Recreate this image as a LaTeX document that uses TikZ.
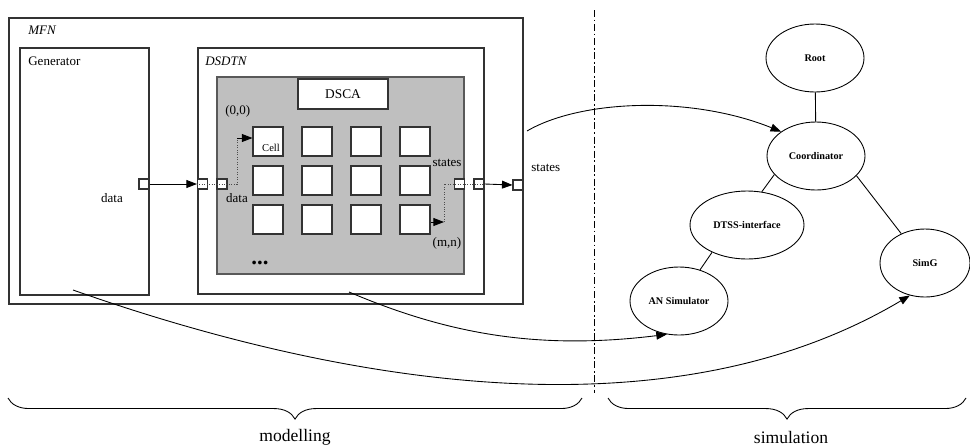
\documentclass[tikz,border=0pt]{standalone}
\usepackage{fontspec}
\setmainfont{Liberation Serif}
\usetikzlibrary{shapes.geometric,fit,arrows.meta,decorations.pathreplacing}

\begin{document}
\begin{tikzpicture}[x=0.02cm, y=-0.02cm,
		box/.style={draw=black!80, line width=0.6pt, inner sep=0},
		port/.style={draw=black!80, line width=0.6pt, fill=white, minimum size=0.2cm, inner sep=0},
		cell/.style={draw=black!80, line width=0.6pt, fill=white, minimum width=0.6cm, minimum height=0.58cm, inner sep=0},
		proc/.style={draw, ellipse, line width=0.5pt, minimum width=1.96cm, minimum height=1.36cm, inner sep=0, font=\fontsize{5.8}{7}\selectfont\bfseries},
		lbl/.style={inner sep=0, font=\fontsize{7.4}{9}\selectfont},
		bigtext/.style={inner sep=0, font=\fontsize{10}{12}\selectfont},
		arr/.style={-{Triangle[length=6pt,width=4.5pt]}, line width=0.5pt},
		dotline/.style={densely dotted, line width=0.4pt, draw=black!70}]
	\useasboundingbox (0,0) rectangle (970,447);
	
	% Modelling side: boxes inside each other
	\node[box, fit={(9,18) (523,304)}] (mfn) {};
	\node[box, fit={(20,48) (149,295)}] (generator) {};
	\node[box, fit={(198,48) (484,294)}] (dsdtn) {};
	\node[box, fill=black!25, draw=black!65, line width=1pt, fit={(217,77) (464,274)}] (dsca) {};
	\node[box, fill=white, minimum width=1.8cm, minimum height=0.6cm, font=\fontsize{7.6}{9}\selectfont] (dscaname) at (343,94) {DSCA};
	
	\node[lbl, anchor=west, font=\fontsize{7.4}{9}\selectfont\itshape] (mfnlabel) at (28,30) {MFN};
	\node[lbl, anchor=west] (genlabel) at (28,61) {Generator};
	\node[lbl, anchor=west, font=\fontsize{7.4}{9}\selectfont\itshape] (dsdtnlabel) at (205,61) {DSDTN};
	\node[lbl, anchor=west] (origin) at (225,111) {(0,0)};
	
	% grid of cells
	\foreach \r in {0,1,2}
		\foreach \c in {0,1,2,3}
			\node[cell] (c\r\c) at (268+49*\c, 141.5+39*\r) {};
	\node[inner sep=0, font=\fontsize{6}{7}\selectfont] (celllabel) at (271,148) {Cell};
	\node[inner sep=0, font=\fontsize{13}{13}\selectfont\bfseries] (more) at (260,263) {...};
	
	% ports
	\node[port] (genport) at (144,184) {};
	\node[port] (dsdtnin) at (202.5,184) {};
	\node[port] (dscain) at (222,184) {};
	\node[port] (dscaout) at (459.5,184) {};
	\node[port] (dsdtnout) at (479,184) {};
	\node[port] (mfnout) at (518,185) {};
	
	\node[lbl] (dataout) at (112,198) {data};
	\node[lbl] (datain) at (237,198) {data};
	\node[lbl] (statesin) at (447,163) {states};
	\node[lbl] (last) at (447,243) {(m,n)};
	\node[lbl, anchor=west] (statesout) at (531,168) {states};
	
	% data flow into the cells and states out
	\coordinate (bendin) at (237,138);
	\coordinate (bendout) at (444,222);
	\draw[arr] (genport.east) -- (dsdtnin.west);
	\draw[dotline] (dsdtnin.west) -- (dscain.west) -- (dscain.east) -| (bendin);
	\draw[arr] (bendin) -- (bendin -| c00.west);
	\draw[arr] (bendout -| c23.east) -- (bendout);
	\draw[dotline] (bendout) |- (dscaout.west) -- (dsdtnout.east);
	\draw[arr] (dsdtnout.east) -- (mfnout.west);
	
	% divider
	\draw[line width=0.5pt, dash pattern=on 4pt off 1.5pt on 1pt off 1.5pt] (594,10) -- (594,393);
	
	% Simulation side: tree of processors
	\node[proc] (root) at (815,58) {Root};
	\node[proc] (coord) at (816,156) {Coordinator};
	\node[proc, minimum width=2.28cm] (dtss) at (747,225) {DTSS-interface};
	\node[proc] (an) at (679,301) {AN Simulator};
	\node[proc, minimum width=1.8cm] (simg) at (925,263) {SimG};
	
	\draw[line width=0.5pt] (root) -- (coord);
	\draw[line width=0.5pt] (coord.204) -- (dtss.66);
	\draw[line width=0.5pt] (coord.-26) -- (simg.129);
	\draw[line width=0.5pt] (dtss.218) -- (an.56);
	
	% mapping from model to simulators
	\coordinate (fromdsdtn) at (527,131);
	\coordinate (fromdsca) at (349,292);
	\coordinate (fromgen) at (73,290);
	\draw[arr] (fromdsdtn) .. controls (580,100) and (690,95) .. (coord.145);
	\draw[arr] (fromdsca) .. controls (450,335) and (540,350) .. (an.250);
	\draw[arr] (fromgen) .. controls (300,370) and (650,450) .. (simg.245);
	
	% braces
	\draw[line width=0.5pt, decorate, decoration={brace, mirror, amplitude=12pt}] (8,398) -- (582,398);
	\draw[line width=0.5pt, decorate, decoration={brace, mirror, amplitude=12pt}] (608,398) -- (966,398);
	\node[bigtext] (modelling) at (295,437) {modelling};
	\node[bigtext] (simulation) at (791,437) {simulation};
\end{tikzpicture}
\end{document}
